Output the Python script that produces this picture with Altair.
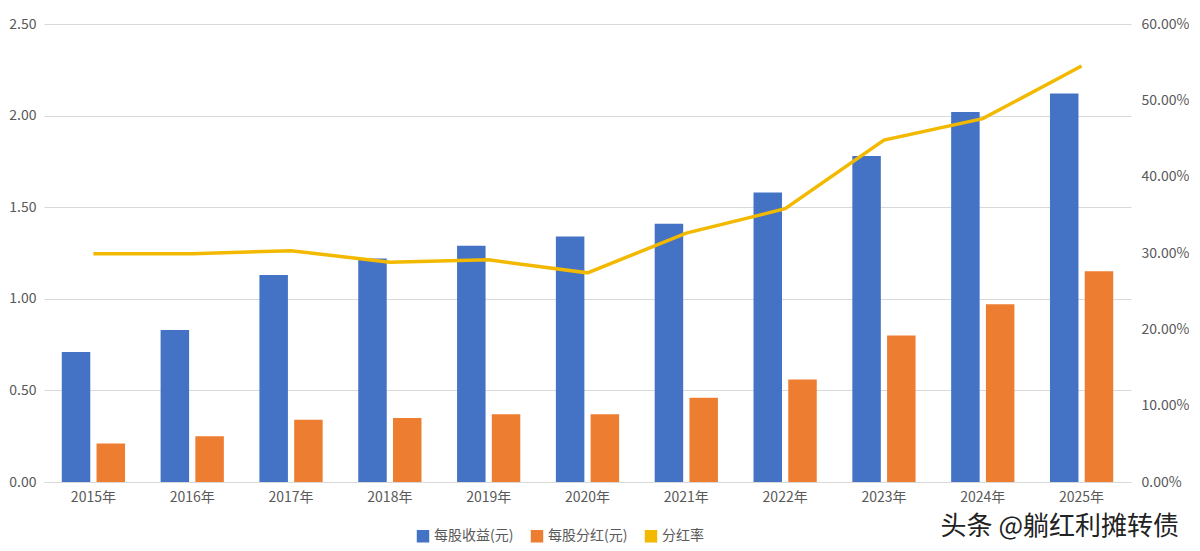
import altair as alt
import pandas as pd

years = [f"{y}年" for y in range(2015, 2026)]
eps = [0.71, 0.83, 1.13, 1.22, 1.29, 1.34, 1.41, 1.58, 1.78, 2.02, 2.12]
dps = [0.21, 0.25, 0.34, 0.35, 0.37, 0.37, 0.46, 0.56, 0.80, 0.97, 1.15]
payout = [0.299, 0.299, 0.303, 0.288, 0.291, 0.274, 0.326, 0.358, 0.448, 0.476, 0.545]

names = ["每股收益(元)", "每股分红(元)", "分红率"]
colors = ["#4472C4", "#ED7D31", "#F2B900"]

bars = pd.DataFrame({
    "year": years * 2,
    "value": eps + dps,
    "series": [names[0]] * 11 + [names[1]] * 11,
})
line = pd.DataFrame({"year": years, "value": payout, "series": names[2]})

font = "Noto Sans CJK SC"
color = alt.Color("series:N", scale=alt.Scale(domain=names, range=colors),
                  legend=alt.Legend(orient="none", legendX=372, legendY=505, direction="horizontal",
                                    title=None, symbolType="square", symbolSize=120,
                                    labelFont=font, labelFontSize=14, labelColor="#595959",
                                    columnPadding=14))
x = alt.X("year:N", sort=years, scale=alt.Scale(paddingInner=0.36, paddingOuter=0.18),
          axis=alt.Axis(title=None, labelAngle=0, labelFont=font, labelFontSize=14,
                        labelColor="#595959", ticks=False, domainColor="#d9d9d9", labelPadding=8))

bar = alt.Chart(bars).mark_bar().encode(
    x=x,
    xOffset=alt.XOffset("series:N", sort=names[:2], scale=alt.Scale(paddingInner=0.18)),
    y=alt.Y("value:Q", scale=alt.Scale(domain=[0, 2.5]),
            axis=alt.Axis(title=None, values=[0, 0.5, 1, 1.5, 2, 2.5], format=".2f",
                          labelFont=font, labelFontSize=14, labelColor="#595959",
                          gridColor="#d9d9d9", domain=False, ticks=False, labelPadding=8)),
    color=color,
)

ln = alt.Chart(line).mark_line(strokeWidth=3.5).encode(
    x=alt.X("year:N", sort=years),
    y=alt.Y("value:Q", scale=alt.Scale(domain=[0, 0.6]),
            axis=alt.Axis(title=None, orient="right", values=[0, 0.1, 0.2, 0.3, 0.4, 0.5, 0.6],
                          format=".2%", labelFont=font, labelFontSize=14, labelColor="#595959",
                          grid=False, domain=False, ticks=False, labelPadding=10)),
    color=color,
)

wm = alt.Chart(pd.DataFrame({"t": ["头条 @躺红利摊转债"]})).mark_text(
    font=font, fontSize=26, color="#222", align="right", baseline="bottom"
).encode(text="t:N", x=alt.value(1135), y=alt.value(516))

chart = alt.layer(bar, ln, wm).resolve_scale(y="independent").properties(
    width=1087, height=458, padding={"left": 0, "top": 9, "right": 0, "bottom": 0}
).configure_view(stroke=None)

chart.save("out.html", embed_options={"renderer": "svg", "actions": False})
